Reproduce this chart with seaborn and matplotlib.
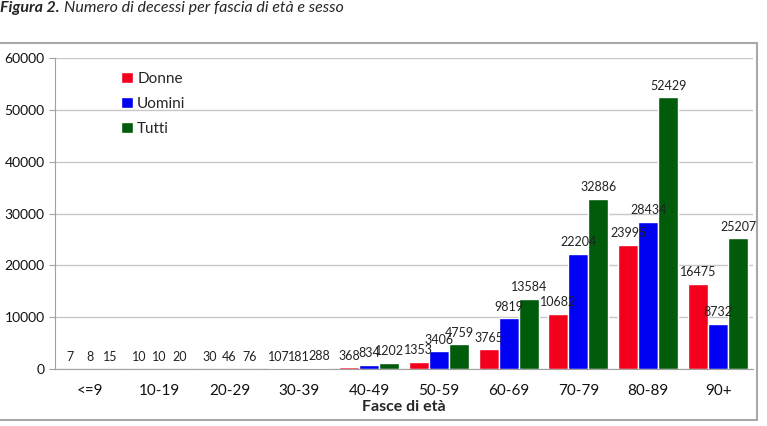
import pandas as pd
import seaborn as sns
import matplotlib.pyplot as plt
from matplotlib.patches import Rectangle

fasce = ['<=9', '10-19', '20-29', '30-39', '40-49', '50-59', '60-69', '70-79', '80-89', '90+']
donne = [7, 10, 30, 107, 368, 1353, 3765, 10682, 23995, 16475]
uomini = [8, 10, 46, 181, 834, 3406, 9819, 22204, 28434, 8732]
tutti = [15, 20, 76, 288, 1202, 4759, 13584, 32886, 52429, 25207]

serie = ['Donne', 'Uomini', 'Tutti']
colori = ['#f2001c', '#0000f2', '#005c0a']

df = pd.DataFrame({
    'fascia': fasce * 3,
    'sesso': [s for s in serie for _ in fasce],
    'n': donne + uomini + tutti,
})

sns.set_style('white')
plt.rcParams['font.family'] = ['Lato', 'DejaVu Sans']

fig = plt.figure(figsize=(7.67, 4.26), dpi=100)
ax = fig.add_axes([0.0717, 0.1338, 0.910, 0.730])

sns.barplot(data=df, x='fascia', y='n', hue='sesso', palette=colori,
            saturation=1, width=0.86, ax=ax, order=fasce, hue_order=serie)

for c in ax.containers:
    ax.bar_label(c, padding=4, fontsize=9, color='#222222')

ax.set_ylim(0, 60000)
ax.set_xlim(-0.5, len(fasce) - 0.5)
ax.set_yticks(range(0, 60001, 10000))
ax.yaxis.grid(True, color='#c8c8c8', lw=1)
ax.set_axisbelow(True)
for s in ['top', 'right']:
    ax.spines[s].set_visible(False)
ax.spines['left'].set_color('#a0a0a0')
ax.spines['bottom'].set_color('#a0a0a0')
ax.tick_params(axis='x', which='major', length=0, labelsize=11, pad=11, colors='#111111')
ax.set_xticks([i - 0.5 for i in range(len(fasce) + 1)], minor=True)
ax.tick_params(axis='x', which='minor', length=4, color='#a0a0a0', direction='out')
ax.tick_params(axis='y', length=4, color='#a0a0a0', left=True, labelsize=10)
for t in ax.get_yticklabels():
    t.set_color('#111111')
ax.set_ylabel('')
ax.set_xlabel('Fasce di età', fontsize=11.5, fontweight='bold', labelpad=1)

leg = ax.legend(loc='upper left', bbox_to_anchor=(0.086, 0.975), frameon=False,
                fontsize=11, handlelength=0.75, handleheight=0.75, handletextpad=0.3,
                labelspacing=0.72, borderaxespad=0)

fig.patches.append(Rectangle((-0.01, 0.014), 0.997, 0.885, transform=fig.transFigure,
                             fill=False, edgecolor='#a8a8a8', lw=1.5))

t1 = fig.text(0.0, 0.982, 'Figura 2.', fontsize=11.5, fontstyle='italic', fontweight='bold',
              va='center', ha='left')
fig.canvas.draw()
bb = t1.get_window_extent().transformed(fig.transFigure.inverted())
fig.text(bb.x1 + 0.006, 0.982, 'Numero di decessi per fascia di età e sesso', fontsize=11.5,
         fontstyle='italic', va='center', ha='left')

fig.savefig('out.png', dpi=100)
